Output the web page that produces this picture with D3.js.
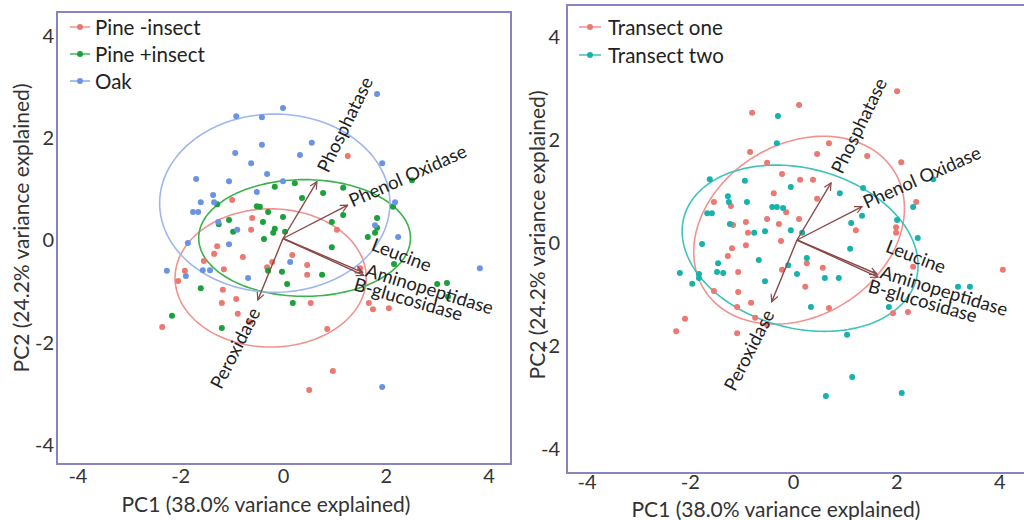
<!DOCTYPE html>
<html>
<head>
<meta charset="utf-8">
<script src="https://cdn.jsdelivr.net/npm/d3@7"></script>
<style>
  body { margin: 0; background: #fff; }
  svg { display: block; }
</style>
</head>
<body>
<svg id="chart" width="1024" height="520"></svg>
<script>
// ---- PCA scores [PC1, PC2] ----
// Panel A: by stand type
const pineMinusInsect = [
  [1.26,1.61],[-0.99,0.75],[-0.60,0.40],[-0.62,0.17],[1.05,0.17],[-1.28,-0.15],
  [-1.34,-0.30],[-0.78,-0.36],[-1.54,-0.44],[-1.15,-0.60],[-1.91,-0.63],[-2.04,-0.83],
  [-1.17,-1.00],[-0.91,-1.18],[-1.19,-1.26],[-0.88,-1.47],[-0.64,-1.63],[-2.35,-1.73],
  [0.18,-0.32],[-0.21,-0.46],[-0.31,-0.56],[0.47,-0.52],[0.47,-0.71],[0.54,-1.26],
  [0.86,-1.77],[0.97,-2.59],[0.51,-2.96],[1.67,-1.26],[1.75,-1.38],[2.06,-1.36],[1.50,-0.58]
];
const pinePlusInsect = [
  [-0.16,1.01],[0.23,1.08],[-1.28,0.67],[-0.51,0.63],[-0.45,0.62],[-0.29,0.52],
  [0.00,0.42],[-1.05,0.36],[-0.39,0.32],[-1.25,0.28],[-0.16,0.19],[-0.97,0.13],
  [0.04,0.13],[-0.37,-0.01],[0.78,0.89],[0.37,0.79],[1.17,0.99],[1.17,0.46],
  [0.95,0.32],[2.51,1.14],[2.14,0.62],[1.83,0.40],[1.83,0.21],[1.79,0.11],
  [1.65,0.03],[0.95,-0.17],[-0.02,-0.65],[-0.29,-0.63],[0.08,-0.89],[0.76,-0.71],
  [-1.60,-0.97],[0.19,-1.26],[-2.16,-1.51],[-1.19,-1.75],[2.16,-0.50],[3.00,-0.89],
  [3.19,-0.87],[3.21,-1.14],[-0.19,0.11]
];
const oak = [
  [0.00,2.55],[-0.91,2.39],[-0.41,2.37],[-0.41,1.83],[0.56,1.87],[-0.93,1.67],
  [0.33,1.63],[-0.62,1.47],[-0.31,1.26],[-1.69,1.16],[-1.05,1.12],[0.00,1.12],
  [-0.51,0.91],[-1.36,0.85],[-1.60,0.71],[-1.34,0.71],[-1.75,0.52],[-1.65,0.52],
  [-1.26,0.32],[-0.89,0.17],[-1.05,-0.11],[-1.85,-0.09],[-2.26,-0.63],[-1.89,-0.73],
  [-1.56,-0.62],[-1.42,-0.62],[-0.68,-0.77],[0.14,-0.46],[1.83,2.82],[1.93,1.47],
  [2.18,0.71],[1.79,0.26],[2.24,0.03],[3.83,-0.58],[1.93,-2.90]
];

// Panel B: by transect
const transectOne = [
  [0.04,2.62],[-0.87,2.47],[1.94,2.89],[-0.91,1.71],[-0.58,1.50],[-0.29,1.28],
  [0.06,1.17],[0.31,1.17],[0.62,1.88],[0.39,1.67],[1.36,1.63],[2.02,1.51],
  [-0.45,0.91],[0.39,0.80],[2.31,0.74],[-1.61,0.74],[-1.28,0.66],[-0.21,0.54],
  [-0.58,0.41],[-0.99,0.35],[-0.35,0.31],[0.04,0.41],[-1.24,0.29],[-0.95,0.14],
  [1.14,0.19],[1.92,0.25],[1.92,0.14],[-0.31,-0.02],[-1.26,-0.16],[-0.99,-0.10],
  [-1.34,-0.31],[0.19,-0.45],[0.50,-0.54],[-1.14,-0.62],[-0.29,-0.58],[0.16,-0.91],
  [-1.61,-0.99],[-1.14,-1.01],[-0.89,-1.22],[-1.16,-1.30],[0.62,-1.32],[-2.17,-1.53],
  [-2.34,-1.77],[-1.16,-1.81],[-0.81,-1.51],[-0.58,-1.65],[2.25,-0.52],[1.86,-1.42],
  [2.15,-1.40],[3.99,-0.58]
];
const transectTwo = [
  [-0.37,2.41],[-0.39,1.88],[-1.69,1.18],[-1.01,1.15],[-0.12,1.03],[-1.34,0.85],
  [-1.32,0.74],[-0.97,0.74],[-0.48,0.64],[-0.39,0.64],[-0.27,0.62],[-1.74,0.52],
  [-1.65,0.52],[-1.30,0.31],[-0.62,0.17],[-0.83,0.14],[-0.12,0.19],[0.10,0.14],
  [0.83,0.91],[1.28,1.01],[1.26,0.47],[1.05,0.33],[1.94,0.39],[2.25,0.64],
  [2.64,1.18],[2.34,0.04],[1.03,-0.17],[0.19,-0.35],[-1.84,-0.08],[-0.74,-0.39],
  [-1.53,-0.45],[-1.55,-0.62],[-1.43,-0.64],[-0.17,-0.49],[0.00,-0.66],[0.54,-0.74],
  [0.81,-0.74],[-0.62,-0.80],[-2.03,-0.85],[-1.90,-0.66],[-1.90,-0.74],[-2.27,-0.64],
  [0.27,-1.30],[0.97,-1.84],[1.07,-2.66],[0.56,-3.03],[2.03,-2.97],[1.78,-1.30],
  [3.12,-0.91],[3.35,-0.91]
];

// Group confidence ellipses: [centre PC1, centre PC2, semi-axis a, semi-axis b, angle (deg)]
const pineMinusEllipse = [-0.24, -0.77, 1.86, 1.35, 0];
const pinePlusEllipse  = [0.42, 0.01, 2.06, 1.14, 0];
const oakEllipse       = [-0.16, 0.69, 2.24, 1.74, 0];
const transectOneEllipse = [0.04, 0.19, 2.17, 1.67, 32];
const transectTwoEllipse = [0.06, -0.16, 2.33, 1.55, -15];

// Enzyme loadings
const enzymeNames = ["Phosphatase", "Phenol Oxidase", "Leucine Aminopeptidase", "B-glucosidase", "Peroxidase"];
const loadingPC1  = [0.66, 1.26, 1.55, 1.57, -0.49];
const loadingPC2  = [1.11, 0.65, -0.66, -0.72, -1.20];

// Axis labels and ticks
const axisTicks = [-4, -2, 0, 2, 4];
const xTitle = "PC1 (38.0% variance explained)";
const yTitle = "PC2 (24.2% variance explained)";

// ---- drawing ----
const FONT = "Lato, 'Open Sans', sans-serif";
const svg = d3.select("#chart");

// vector label placement: offset from arrow tip, rotation, anchor
const labelLayout = [
  { dx: 5,  dy: -11, rot: -64, anchor: "start", lines: ["Phosphatase"] },
  { dx: 2,  dy: -4,  rot: -24, anchor: "start", lines: ["Phenol Oxidase"] },
  { dx: 10, dy: -29, rot: 21,  anchor: "start", lines: ["Leucine"], extra: { dx: 4, dy: -3, rot: 17, text: "Aminopeptidase" } },
  { dx: -9, dy: 8,   rot: 16,  anchor: "start", lines: ["B-glucosidase"] },
  { dx: -3, dy: 9,   rot: -63, anchor: "end",   lines: ["Peroxidase"] }
];

function ellipsePoints(e) {
  const [cx, cy, a, b, deg] = e;
  const r = deg * Math.PI / 180;
  return d3.range(0, 361, 2).map(t => {
    const u = t * Math.PI / 180;
    return [
      cx + a * Math.cos(u) * Math.cos(r) - b * Math.sin(u) * Math.sin(r),
      cy + a * Math.cos(u) * Math.sin(r) + b * Math.sin(u) * Math.cos(r)
    ];
  });
}

function drawPanel(p) {
  const x = d3.scaleLinear().domain([-4, 4]).range(p.xRange);
  const y = d3.scaleLinear().domain([-4, 4]).range(p.yRange);
  const g = svg.append("g");

  // plot frame
  g.append("rect")
    .attr("x", p.frame[0]).attr("y", p.frame[1])
    .attr("width", p.frame[2]).attr("height", p.frame[3])
    .attr("fill", "none").attr("stroke", "#8784bf").attr("stroke-width", 2);

  // axes (labels only)
  const xa = g.append("g")
    .attr("transform", `translate(${p.xAxisShift},${p.xAxisY})`)
    .call(d3.axisBottom(x).tickValues(axisTicks).tickSize(0).tickPadding(0).tickFormat(d => String(d)));
  xa.select(".domain").remove();
  xa.attr("font-family", FONT).attr("font-size", 20);
  xa.selectAll("text").attr("fill", "#333");

  const ya = g.append("g")
    .attr("transform", `translate(${p.yAxisX},${p.yAxisShift})`)
    .call(d3.axisLeft(y).tickValues(axisTicks).tickSize(0).tickPadding(0).tickFormat(d => String(d)));
  ya.select(".domain").remove();
  ya.attr("font-family", FONT).attr("font-size", 20);
  ya.selectAll("text").attr("fill", "#333");

  g.append("text")
    .attr("x", p.xTitlePos[0]).attr("y", p.xTitlePos[1])
    .attr("text-anchor", "middle").attr("dominant-baseline", "central")
    .attr("font-family", FONT).attr("font-size", 21).attr("fill", "#333")
    .text(xTitle);
  g.append("text")
    .attr("transform", `translate(${p.yTitlePos[0]},${p.yTitlePos[1]}) rotate(-90)`)
    .attr("text-anchor", "middle").attr("dominant-baseline", "central")
    .attr("font-family", FONT).attr("font-size", 21).attr("fill", "#333")
    .text(yTitle);

  const line = d3.line().x(d => x(d[0])).y(d => y(d[1]));

  // ellipses
  p.groups.forEach(gr => {
    g.append("path")
      .attr("d", line(ellipsePoints(gr.ellipse)))
      .attr("fill", "none").attr("stroke", gr.ellipseColor).attr("stroke-width", 1.6);
  });

  // points
  p.groups.forEach(gr => {
    g.append("g").selectAll("circle").data(gr.points).join("circle")
      .attr("cx", d => x(d[0])).attr("cy", d => y(d[1]))
      .attr("r", 3).attr("fill", gr.color);
  });

  // loading vectors
  const markerId = "arrow-" + p.id;
  svg.append("defs").append("marker")
    .attr("id", markerId).attr("viewBox", "0 0 10 10")
    .attr("refX", 9).attr("refY", 5)
    .attr("markerWidth", 9).attr("markerHeight", 9)
    .attr("markerUnits", "userSpaceOnUse")
    .attr("orient", "auto")
    .append("path").attr("d", "M1,1 L9,5 L1,9")
    .attr("fill", "none").attr("stroke", "#8a4848").attr("stroke-width", 1.3);

  enzymeNames.forEach((name, i) => {
    g.append("line")
      .attr("x1", x(0)).attr("y1", y(0))
      .attr("x2", x(loadingPC1[i])).attr("y2", y(loadingPC2[i]))
      .attr("stroke", "#8a4848").attr("stroke-width", 1.4)
      .attr("marker-end", `url(#${markerId})`);
  });

  enzymeNames.forEach((name, i) => {
    const L = labelLayout[i];
    const tx = x(loadingPC1[i]), ty = y(loadingPC2[i]);
    g.append("text")
      .attr("transform", `translate(${tx + L.dx},${ty + L.dy}) rotate(${L.rot})`)
      .attr("text-anchor", L.anchor).attr("dominant-baseline", "central")
      .attr("font-family", FONT).attr("font-size", 18.5).attr("fill", "#222")
      .text(L.lines[0]);
    if (L.extra) {
      g.append("text")
        .attr("transform", `translate(${tx + L.extra.dx},${ty + L.extra.dy}) rotate(${L.extra.rot})`)
        .attr("text-anchor", "start").attr("dominant-baseline", "central")
        .attr("font-family", FONT).attr("font-size", 18.5).attr("fill", "#222")
        .text(L.extra.text);
    }
  });

  // legend
  p.groups.forEach((gr, i) => {
    const ly = p.legend[1] + i * p.legend[4];
    g.append("line")
      .attr("x1", p.legend[0]).attr("x2", p.legend[0] + p.legend[2])
      .attr("y1", ly).attr("y2", ly)
      .attr("stroke", gr.color).attr("stroke-width", 1.5).attr("opacity", 0.8);
    g.append("circle")
      .attr("cx", p.legend[0] + p.legend[2] / 2).attr("cy", ly).attr("r", 3)
      .attr("fill", gr.color);
    g.append("text")
      .attr("x", p.legend[3]).attr("y", ly)
      .attr("dominant-baseline", "central")
      .attr("font-family", FONT).attr("font-size", 20.5).attr("fill", "#222")
      .text(gr.name);
  });
}

const RED = "#ec7872", GREEN = "#1ca03c", BLUE = "#6b93e4", TEAL = "#17b2ac";

drawPanel({
  id: "site",
  xRange: [283 - 4 * 51.4, 283 + 4 * 51.4],
  yRange: [238.5 + 4 * 51.2, 238.5 - 4 * 51.2],
  frame: [57, 12, 454, 452],
  xAxisY: 469, xAxisShift: 0,
  yAxisX: 54, yAxisShift: 2,
  xTitlePos: [266, 503],
  yTitlePos: [20, 228],
  legend: [70, 27, 20, 95, 27],
  groups: [
    { name: "Pine -insect", points: pineMinusInsect, color: RED, ellipse: pineMinusEllipse, ellipseColor: "#f0938e" },
    { name: "Pine +insect", points: pinePlusInsect, color: GREEN, ellipse: pinePlusEllipse, ellipseColor: "#3bb34b" },
    { name: "Oak", points: oak, color: BLUE, ellipse: oakEllipse, ellipseColor: "#9fb6ee" }
  ]
});

drawPanel({
  id: "transect",
  xRange: [797 - 4 * 51.6, 797 + 4 * 51.6],
  yRange: [240 + 4 * 51.5, 240 - 4 * 51.5],
  frame: [567, 5, 470, 468],
  xAxisY: 475, xAxisShift: -4,
  yAxisX: 560, yAxisShift: 3,
  xTitlePos: [776, 508],
  yTitlePos: [536, 235],
  legend: [579, 27, 22, 608, 28],
  groups: [
    { name: "Transect one", points: transectOne, color: RED, ellipse: transectOneEllipse, ellipseColor: "#f0938e" },
    { name: "Transect two", points: transectTwo, color: TEAL, ellipse: transectTwoEllipse, ellipseColor: "#3ec3bd" }
  ]
});
</script>
</body>
</html>
